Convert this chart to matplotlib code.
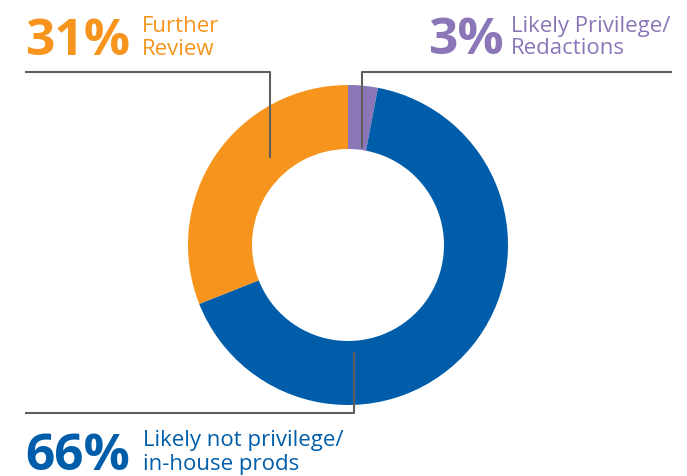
import matplotlib
matplotlib.use("Agg")
import matplotlib.pyplot as plt

# dados do grafico
categorias = ["Likely Privilege/\nRedactions", "Likely not privilege/\nin-house prods", "Further\nReview"]
valores = [3, 66, 31]
rotulos = ["3%", "66%", "31%"]
cores = ["#8B76B8", "#005DAA", "#F7941D"]

fig = plt.figure(figsize=(6.87, 4.76), dpi=100)
ax = fig.add_axes([0, 0, 1, 1])

# rosca: comeca no topo e segue no sentido horario (eixo y invertido)
ax.pie(valores, colors=cores, startangle=-90, counterclock=True,
       radius=160, center=(348, 245),
       wedgeprops=dict(width=64, linewidth=0))

ax.set_xlim(0, 687)
ax.set_ylim(476, 0)
ax.set_aspect("equal")
ax.axis("off")

# linhas de chamada
cinza = "#5f5f5f"
ax.plot([25, 270, 270], [72, 72, 158], color=cinza, lw=1.5, solid_capstyle="butt")
ax.plot([672, 362, 362], [72, 72, 148], color=cinza, lw=1.5, solid_capstyle="butt")
ax.plot([25, 354, 354], [413, 413, 352], color=cinza, lw=1.5, solid_capstyle="butt")

# textos
fonte = "Open Sans"
pos_pct = [(428, 54), (25, 470), (25, 55)]
pos_txt = [(511, 32), (143, 446), (142, 32)]
espaco = [22, 24, 23]
for rot, cat, cor, pp, pt, esp in zip(rotulos, categorias, cores, pos_pct, pos_txt, espaco):
    ax.text(pp[0], pp[1], rot, color=cor, fontsize=37, fontweight="bold",
            family=fonte, va="baseline", ha="left")
    linhas = cat.split("\n")
    ax.text(pt[0], pt[1], linhas[0], color=cor, fontsize=16,
            family=fonte, va="baseline", ha="left")
    ax.text(pt[0], pt[1] + esp, linhas[1], color=cor, fontsize=16,
            family=fonte, va="baseline", ha="left")

fig.savefig("out.png", dpi=100)
